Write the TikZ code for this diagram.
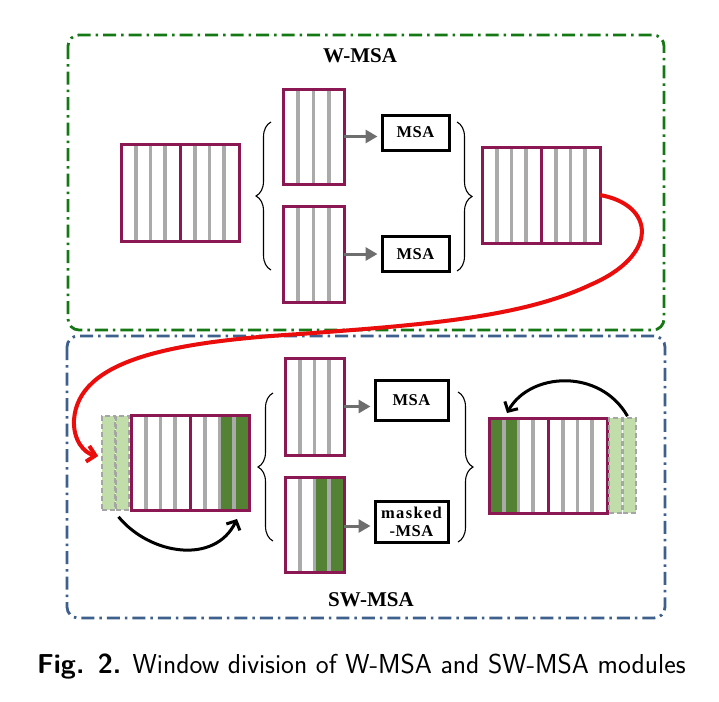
\documentclass[tikz,border=0pt]{standalone}
\usepackage{fontspec}
\setmainfont{Liberation Serif}
\newfontfamily\spacedserif[LetterSpace=8]{Liberation Serif}
\newfontfamily\msaserif[LetterSpace=3]{Liberation Serif}
\usetikzlibrary{arrows.meta,decorations.pathreplacing}
\definecolor{winred}{RGB}{139,24,82}
\definecolor{stripegray}{RGB}{170,170,170}
\definecolor{dgreen}{RGB}{84,130,53}
\definecolor{lgreen}{RGB}{192,221,170}
\definecolor{ghostgray}{RGB}{165,165,165}
\definecolor{frameg}{RGB}{20,120,20}
\definecolor{frameb}{RGB}{62,96,140}
\definecolor{arrowgray}{RGB}{110,110,110}
\definecolor{redline}{RGB}{235,12,12}
\tikzset{
  win/.style={draw=winred, line width=3pt, inner sep=0pt, outer sep=0pt},
  stripe/.style={draw=stripegray, line width=3.8pt},
  ghost/.style={draw=ghostgray, fill=lgreen, dashed, dash pattern=on 5pt off 3pt, line width=1.6pt, inner sep=0pt, minimum width=13pt},
  msabox/.style={draw=black, line width=3pt, inner sep=0pt, font=\msaserif\bfseries\fontsize{16.5}{19}\selectfont},
  title/.style={font=\bfseries\fontsize{21}{24}\selectfont, inner sep=0pt},
  garrow/.style={draw=arrowgray, line width=3pt, -{Triangle[length=12pt,width=13pt]}, shorten >=3pt},
  bracestyle/.style={draw=black, line width=1.1pt, decorate, decoration={brace, amplitude=15pt}},
  frameG/.style={draw=frameg, line width=2.8pt, rounded corners=11pt, dash pattern=on 13pt off 5pt on 2.5pt off 5pt},
  frameB/.style={draw=frameb, line width=2.8pt, rounded corners=11pt, dash pattern=on 13pt off 5pt on 2.5pt off 5pt},
  redarrow/.style={draw=redline, line width=4pt, -{Straight Barb[length=8pt,width=16pt]}},
  blackarrow/.style={draw=black, line width=3pt, -{Straight Barb[length=7pt,width=15pt]}},
}
% #1 name, #2 x1, #3 y1, #4 x2, #5 y2
\newcommand\winbox[5]{%
  \pgfmathsetmacro\ww{#4-#2}%
  \pgfmathsetmacro\wh{#5-#3}%
  \pgfmathsetmacro\wcx{(#2+#4)/2}%
  \pgfmathsetmacro\wcy{(#3+#5)/2}%
  \foreach \k in {1,2,3} {\draw[stripe] ({#2+\k*\ww/4},#3) -- ({#2+\k*\ww/4},#5);}%
  \node[win, minimum width=\ww pt, minimum height=\wh pt] (#1) at (\wcx,\wcy) {};%
}
% green columns: #1 x1, #2 y1, #3 x2, #4 y2
\newcommand\greencols[4]{\fill[dgreen] (#1,#2) rectangle (#3,#4);}
\begin{document}
\begin{tikzpicture}[x=1pt, y=-1pt]
\useasboundingbox (0,0) rectangle (719,701);
\fill[white] (0,0) rectangle (719,701);

% frames
\draw[frameG] (68,35) rectangle (664,330);
\draw[frameB] (67,336) rectangle (665,618);

% titles
\node[title, anchor=base] (wtitle) at (360,63) {W-MSA};
\node[title, anchor=base] (swtitle) at (371,606) {SW-MSA};

% ===== W-MSA =====
\winbox{winA}{121}{144}{180}{241}
\winbox{winB}{180}{144}{239}{241}
\winbox{wT}{283}{89}{344}{184}
\winbox{wB}{283}{206}{344}{302}
\node[msabox, minimum width=67pt, minimum height=35pt] (msa1) at (415.5,132.5) {MSA};
\node[msabox, minimum width=67pt, minimum height=35pt] (msa2) at (415.5,254) {MSA};
\draw[garrow] (wT.east) -- (wT.east -| msa1.west);
\draw[garrow] (wB.east) -- (wB.east -| msa2.west);
\draw[bracestyle] (271,270) -- (271,122);
\draw[bracestyle] (457,122) -- (457,271);
\winbox{woutA}{482}{147}{541}{243}
\winbox{woutB}{541}{147}{600}{243}

% ===== SW-MSA =====
\node[ghost, minimum height=94pt] (g1) at (108.5,463) {};
\node[ghost, minimum height=94pt] (g2) at (122.5,463) {};
\greencols{219.5}{415}{249}{510}
\winbox{swinA}{131}{415}{190}{510}
\winbox{swinB}{190}{415}{249}{510}
\winbox{swT}{285}{358}{344}{455}
\greencols{314.5}{477}{344}{572}
\winbox{swB}{285}{477}{344}{572}
\node[msabox, minimum width=73pt, minimum height=40pt] (msa3) at (411.5,400) {MSA};
\node[msabox, minimum width=73pt, minimum height=41pt, align=center] (msa4) at (411.5,521.5) {\spacedserif\bfseries masked\\[-1pt]-MSA};
\draw[garrow] (swT.east) -- (swT.east -| msa3.west);
\draw[garrow] ([yshift=-1.5pt]swB.east) -- ([yshift=-1.5pt]swB.east -| msa4.west);
\draw[bracestyle] (273,541) -- (273,393);
\draw[bracestyle] (458,392) -- (458,542);
\greencols{489}{418}{518.5}{513}
\winbox{swoutA}{489}{418}{548}{513}
\winbox{swoutB}{548}{418}{607}{513}
\node[ghost, minimum height=95pt] (g3) at (615.5,465.5) {};
\node[ghost, minimum height=95pt] (g4) at (629.5,465.5) {};

% curved connectors
\coordinate (redend) at ([xshift=-3pt,yshift=7pt]g1.west);
\draw[redarrow] (woutB.east) .. controls (655,205) and (660,255) .. (590,285)
  .. controls (520,318) and (420,325) .. (300,334)
  .. controls (170,342) and (78,360) .. (74,420)
  .. controls (73,440) and (84,453) .. (redend);
\coordinate (la1) at ([xshift=-4pt,yshift=-6pt]g2.south);
\coordinate (la2) at ([xshift=-12pt,yshift=-9pt]swinB.south east);
\draw[blackarrow] (la1) .. controls (150,555) and (215,565) .. (la2);
\coordinate (ra1) at ([xshift=-2pt,yshift=1pt]g4.north);
\coordinate (ra2) at ([xshift=18pt,yshift=5pt]swoutA.north west);
\draw[blackarrow] (ra1) .. controls (600,368) and (530,372) .. (ra2);

% caption
\node[anchor=base west, inner sep=0pt, font=\sffamily\fontsize{27.4}{32}\selectfont] (caption) at (37,673) {\textbf{Fig. 2.} Window division of W-MSA and SW-MSA modules};
\end{tikzpicture}
\end{document}
